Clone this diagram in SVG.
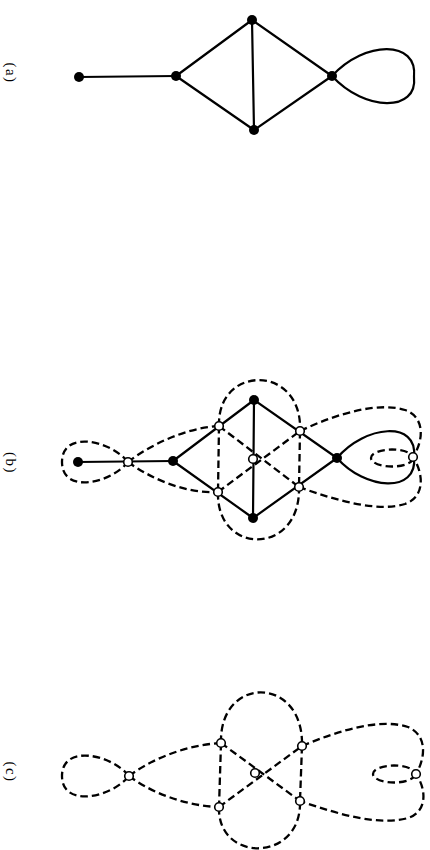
<svg xmlns="http://www.w3.org/2000/svg" width="430" height="850" viewBox="0 0 430 850">
<style>
.s{fill:none;stroke:#000;stroke-width:2.2;stroke-linecap:round}
.d{fill:none;stroke:#000;stroke-width:2.3;stroke-dasharray:7.5 4}
.f{fill:#000}
.o{fill:#fff;stroke:#000;stroke-width:1.6}
.lbl{font-family:"Liberation Serif",serif;font-size:15px;letter-spacing:1.5px;fill:#000}
</style>
<rect width="430" height="850" fill="#fff"/>

<!-- Figure (a) -->
<g id="fig-a">
<text class="lbl" x="11" y="73" text-anchor="middle" dominant-baseline="central" transform="rotate(90 11 73)">(a)</text>
<g id="a-edges">
<line class="s" x1="79" y1="77" x2="176" y2="76"/>
<line class="s" x1="176" y1="76" x2="252" y2="20"/>
<line class="s" x1="176" y1="76" x2="254" y2="130"/>
<line class="s" x1="252" y1="20" x2="254" y2="130"/>
<line class="s" x1="252" y1="20" x2="332" y2="76"/>
<line class="s" x1="254" y1="130" x2="332" y2="76"/>
<path class="s" d="M332,76 C365,40 418,40 414,77 C418,112 365,112 332,76"/>
</g>
<g id="a-n1"><circle class="f" cx="79" cy="77" r="5"/></g>
<g id="a-n2"><circle class="f" cx="176" cy="76" r="5"/></g>
<g id="a-n3"><circle class="f" cx="252" cy="20" r="5"/></g>
<g id="a-n4"><circle class="f" cx="254" cy="130" r="5"/></g>
<g id="a-n5"><circle class="f" cx="332" cy="76" r="5"/></g>
</g>

<!-- Figure (b) -->
<g id="fig-b">
<text class="lbl" x="11" y="463" text-anchor="middle" dominant-baseline="central" transform="rotate(90 11 463)">(b)</text>
<g id="b-edges">
<line class="s" x1="78" y1="462" x2="173" y2="461"/>
<line class="s" x1="173" y1="461" x2="254" y2="400"/>
<line class="s" x1="173" y1="461" x2="253" y2="518"/>
<line class="s" x1="254" y1="400" x2="253" y2="518"/>
<line class="s" x1="254" y1="400" x2="337" y2="458"/>
<line class="s" x1="253" y1="518" x2="337" y2="458"/>
<path class="s" d="M337,458 C365,425 418,420 414,457 C418,494 365,490 337,458"/>
<path class="d" d="M128,462 C110,440 62,430 62,462 C62,494 110,484 128,462"/>
<path class="d" d="M128,462 C150,445 185,428 219,426"/>
<path class="d" d="M128,462 C150,478 185,494 218,492"/>
<line class="d" x1="219" y1="426" x2="299" y2="487"/>
<line class="d" x1="218" y1="492" x2="300" y2="431"/>
<line class="d" x1="219" y1="426" x2="218" y2="492"/>
<line class="d" x1="300" y1="431" x2="299" y2="487"/>
<path class="d" d="M219,426 C217,364 303,364 300,431"/>
<path class="d" d="M218,492 C216,556 301,556 299,487"/>
<path class="d" d="M300,431 C340,412 380,402 405,410 C425,417 424,440 413,457 C424,474 425,497 405,504 C380,512 340,502 299,487"/>
<ellipse class="d" cx="392" cy="458" rx="21" ry="8.5"/>
</g>
<g id="b-n1"><circle class="f" cx="78" cy="462" r="5"/></g>
<g id="b-n2"><circle class="f" cx="173" cy="461" r="5"/></g>
<g id="b-n3"><circle class="f" cx="254" cy="400" r="5"/></g>
<g id="b-n4"><circle class="f" cx="253" cy="518" r="5"/></g>
<g id="b-n5"><circle class="f" cx="337" cy="458" r="5"/></g>
<g id="b-m1"><circle class="o" cx="128" cy="462" r="4.3"/></g>
<g id="b-m2"><circle class="o" cx="219" cy="426" r="4.3"/></g>
<g id="b-m3"><circle class="o" cx="218" cy="492" r="4.3"/></g>
<g id="b-m4"><circle class="o" cx="253" cy="459" r="4.3"/></g>
<g id="b-m5"><circle class="o" cx="300" cy="431" r="4.3"/></g>
<g id="b-m6"><circle class="o" cx="299" cy="487" r="4.3"/></g>
<g id="b-m7"><circle class="o" cx="413" cy="457" r="4.3"/></g>
</g>

<!-- Figure (c) -->
<g id="fig-c">
<text class="lbl" x="11" y="772" text-anchor="middle" dominant-baseline="central" transform="rotate(90 11 772)">(c)</text>
<g id="c-edges">
<path class="d" d="M129,776 C111,754 62,744 62,776 C62,808 111,798 129,776"/>
<path class="d" d="M129,776 C150,760 185,745 221,743"/>
<path class="d" d="M129,776 C150,792 185,806 219,807"/>
<line class="d" x1="221" y1="743" x2="300" y2="801"/>
<line class="d" x1="219" y1="807" x2="302" y2="746"/>
<line class="d" x1="221" y1="743" x2="219" y2="807"/>
<line class="d" x1="302" y1="746" x2="300" y2="801"/>
<path class="d" d="M221,743 C219,675 304,675 302,746"/>
<path class="d" d="M219,807 C217,863 302,863 300,801"/>
<path class="d" d="M302,746 C340,730 380,718 408,727 C427,735 426,757 416,774 C427,790 427,812 408,818 C380,826 340,815 300,801"/>
<ellipse class="d" cx="394" cy="774" rx="21" ry="8.5"/>
</g>
<g id="c-m1"><circle class="o" cx="129" cy="776" r="4.3"/></g>
<g id="c-m2"><circle class="o" cx="221" cy="743" r="4.3"/></g>
<g id="c-m3"><circle class="o" cx="219" cy="807" r="4.3"/></g>
<g id="c-m4"><circle class="o" cx="255" cy="773" r="4.3"/></g>
<g id="c-m5"><circle class="o" cx="302" cy="746" r="4.3"/></g>
<g id="c-m6"><circle class="o" cx="300" cy="801" r="4.3"/></g>
<g id="c-m7"><circle class="o" cx="416" cy="774" r="4.3"/></g>
</g>
</svg>
